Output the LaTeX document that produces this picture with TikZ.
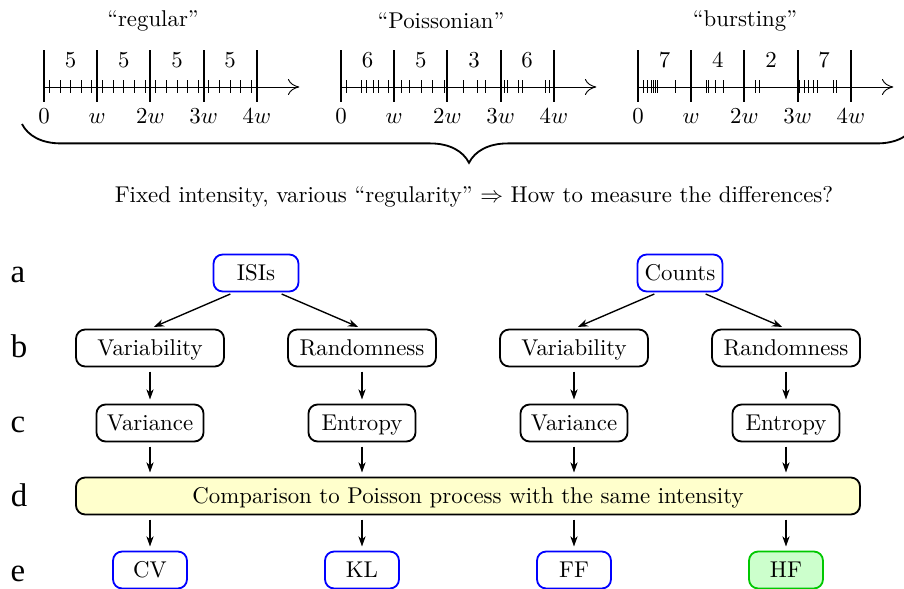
\documentclass[tikz,border=0pt]{standalone}
\usepackage{fontspec}
\newfontfamily\rowfont{Liberation Serif}
\usetikzlibrary{arrows.meta,decorations.pathreplacing}
\definecolor{paleyellow}{RGB}{255,255,204}
\definecolor{palegreen}{RGB}{204,255,204}
\definecolor{hfgreen}{RGB}{0,200,0}
\begin{document}
\begin{tikzpicture}[x=0.438pt,y=-0.438pt,
 box/.style={draw,thick,rounded corners=4pt,minimum height=16.2pt,inner sep=2pt,text height=7.8pt,text depth=1.2pt},
 topbox/.style={box,draw=blue,minimum width=37.2pt},
 midbox/.style={box,minimum width=64.8pt},
 lowbox/.style={box,minimum width=46.9pt},
 endbox/.style={box,draw=blue,minimum width=32.4pt},
 cmpbox/.style={box,fill=paleyellow,minimum width=343.4pt},
 rowlab/.style={font=\rowfont\fontsize{14.4}{17}\selectfont,anchor=base},
 flow/.style={-{Stealth[length=4.5pt,width=3.2pt]},semithick,shorten >=1.8pt,shorten <=1.8pt},
 axis/.style={-{To[length=5pt,width=7pt]}},
 spike/.style={line width=0.4pt},
 bound/.style={thick}]
\useasboundingbox (0,0) rectangle (904,589);
 \node (treg) at (153,21) {``regular''};
 \node (tpoi) at (441,21) {``Poissonian''};
 \node (tbur) at (745,21) {``bursting''};
 \begin{scope}[shift={(44,87)},x=23.3pt]
 \draw[axis] (0,0) -- (4.8,0);
 \foreach \k in {0,...,4} \draw[bound] (\k,-37) -- (\k,15);
 \foreach \k in {0,...,19} \draw[spike] ({0.1+0.2*\k},-7) -- ++(0,13);
 \foreach \n [count=\i from 0] in {5,5,5,5} \node[anchor=base] (nreg\i) at (\i+0.5,-19) {\n};
 \end{scope}
 \begin{scope}[shift={(341,87)},x=23.3pt]
 \draw[axis] (0,0) -- (4.8,0);
 \foreach \k in {0,...,4} \draw[bound] (\k,-37) -- (\k,15);
 \foreach \t in {0.108,0.392,0.487,0.601,0.696,0.897,1.132,1.289,1.517,1.719,1.939,2.307,2.559,2.717,3.077,3.122,3.330,3.412,3.835,3.918}
 \draw[spike] (\t,-7) -- ++(0,13);
 \foreach \n [count=\i from 0] in {6,5,3,6} \node[anchor=base] (npoi\i) at (\i+0.5,-19) {\n};
 \end{scope}
 \begin{scope}[shift={(638,87)},x=23.3pt]
 \draw[axis] (0,0) -- (4.8,0);
 \foreach \k in {0,...,4} \draw[bound] (\k,-37) -- (\k,15);
 \foreach \t in {0.10,0.18,0.245,0.29,0.33,0.37,0.70,1.28,1.33,1.45,1.60,2.20,2.29,3.04,3.12,3.21,3.30,3.38,3.68,3.74}
 \draw[spike] (\t,-7) -- ++(0,13);
 \foreach \n [count=\i from 0] in {7,4,2,7} \node[anchor=base] (nbur\i) at (\i+0.5,-19) {\n};
 \end{scope}
 \foreach \x [count=\j from 0] in {44,341,638}{
 \node[anchor=base] (w\j a) at (\x,124) {$0$};
 \node[anchor=base] (w\j b) at (\x+53.2,124) {$w$};
 \node[anchor=base] (w\j c) at (\x+106.4,124) {$2w$};
 \node[anchor=base] (w\j d) at (\x+159.6,124) {$3w$};
 \node[anchor=base] (w\j e) at (\x+212.8,124) {$4w$};
 }
 \coordinate (bl) at (22,124);
 \coordinate (br) at (916,124);
 \draw[thick,decorate,decoration={brace,mirror,amplitude=17pt}] (bl) -- (br);
 \node (cap) at (474,197) {Fixed intensity, various ``regularity'' $\Rightarrow$ How to measure the differences?};
 \node[rowlab] (la) at (18,283) {a};
 \node[rowlab] (lb) at (19,357) {b};
 \node[rowlab] (lc) at (18,432) {c};
 \node[rowlab] (ld) at (19,506) {d};
 \node[rowlab] (le) at (18,581) {e};
 \node[topbox] (isi) at (256,273) {ISIs};
 \node[topbox] (cnt) at (680,273) {Counts};
 \node[midbox] (var1) at (150,348) {Variability};
 \node[midbox] (ran1) at (362,348) {Randomness};
 \node[midbox] (var2) at (574,348) {Variability};
 \node[midbox] (ran2) at (786,348) {Randomness};
 \node[lowbox] (vce1) at (150,423) {Variance};
 \node[lowbox] (ent1) at (362,423) {Entropy};
 \node[lowbox] (vce2) at (574,423) {Variance};
 \node[lowbox] (ent2) at (786,423) {Entropy};
 \node[cmpbox] (cmp) at (468,496) {Comparison to Poisson process with the same intensity};
 \node[endbox] (cv) at (150,570) {CV};
 \node[endbox] (kl) at (362,570) {KL};
 \node[endbox] (ff) at (574,570) {FF};
 \node[endbox,draw=hfgreen,fill=palegreen] (hf) at (786,570) {HF};
 \draw[flow] ([xshift=-9.6pt]isi.south) -- (var1.north);
 \draw[flow] ([xshift=9.6pt]isi.south) -- (ran1.north);
 \draw[flow] ([xshift=-9.6pt]cnt.south) -- (var2.north);
 \draw[flow] ([xshift=9.6pt]cnt.south) -- (ran2.north);
 \foreach \a/\b/\c in {var1/vce1/cv,ran1/ent1/kl,var2/vce2/ff,ran2/ent2/hf}{
 \draw[flow] (\a) -- (\b);
 \draw[flow] (\b) -- (\b |- cmp.north);
 \draw[flow] (\c |- cmp.south) -- (\c);
 }
\end{tikzpicture}
\end{document}
